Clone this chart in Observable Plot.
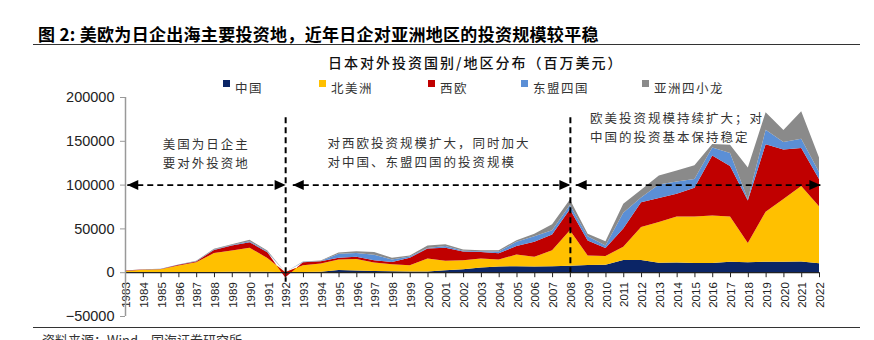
<!DOCTYPE html>
<html>
<head>
<meta charset="utf-8">
<script src="https://cdn.jsdelivr.net/npm/d3@7"></script>
<script src="https://cdn.jsdelivr.net/npm/@observablehq/plot@0.6"></script>
<style>
  body { margin: 0; background: #fff; }
  #wrap { position: relative; width: 874px; height: 340px; overflow: hidden; font-family: "Noto Sans CJK SC", sans-serif; color: #222; }
  .title { position: absolute; left: 38px; top: 21px; font-size: 17px; font-weight: bold; color: #000; white-space: nowrap; letter-spacing: 0.3px; }
  .hline { position: absolute; height: 0; border-top: 1.5px solid #333; }
  .sub { position: absolute; left: 328px; top: 52px; font-size: 14px; letter-spacing: 2px; color: #111; white-space: nowrap; font-weight: 500; }
  .leg { position: absolute; top: 78px; font-size: 12.5px; letter-spacing: 1.5px; color: #333; white-space: nowrap; }
  .leg i { position: absolute; left: 0; top: 2px; width: 7px; height: 7px; }
  .leg span { position: absolute; left: 12px; top: 0; }
  .src { position: absolute; left: 42px; top: 330px; font-size: 13px; color: #333; white-space: nowrap; }
  #chart { position: absolute; left: 0; top: 88px; }
  #chart svg { overflow: visible; }
</style>
</head>
<body>
<div id="wrap">
  <div class="title">图 2: 美欧为日企出海主要投资地，近年日企对亚洲地区的投资规模较平稳</div>
  <div class="hline" style="left:33px;width:827px;top:44px;"></div>
  <div class="sub">日本对外投资国别/地区分布（百万美元）</div>
  <div id="legend"></div>
  <div id="chart"></div>
  <div class="hline" style="left:33px;width:827px;top:327px;"></div>
  <div class="src">资料来源：Wind，国海证券研究所</div>
</div>
<script>
// ---- data ----
const years = [1983,1984,1985,1986,1987,1988,1989,1990,1991,1992,
               1993,1994,1995,1996,1997,1998,1999,2000,2001,2002,
               2003,2004,2005,2006,2007,2008,2009,2010,2011,2012,
               2013,2014,2015,2016,2017,2018,2019,2020,2021,2022];
const seriesNames = ["中国", "北美洲", "西欧", "东盟四国", "亚洲四小龙"];
const seriesColors = ["#0b2566", "#ffc000", "#c00000", "#5b8fd6", "#8a8a8a"];
const china = [0,0,100,200,300,300,400,400,500,0,
               200,500,2500,2000,1500,1000,700,900,2300,3400,
               5300,6500,6900,6500,6900,7300,8100,8500,14000,13800,
               10700,11200,10500,10500,11800,11500,12000,12000,12300,10200];
const northAmerica = [1500,2800,3200,7500,11000,21500,24300,27400,15800,0,
               7800,9500,12000,13000,9500,8000,7300,14600,10700,10300,
               10300,8000,13300,11000,18100,40700,11000,10000,15000,37700,
               46700,52400,53000,54300,51800,21900,57000,71700,86000,65200];
const westernEurope = [300,300,400,800,1000,3500,5800,6500,6500,-6000,
               3500,2500,2000,2500,2700,2700,8500,11500,15000,9800,
               7400,7000,9600,17200,18000,24000,17000,9000,21000,28300,
               27300,25900,33000,68500,57500,48500,77000,56500,43500,31000];
const asean = [100,100,100,200,300,500,500,1000,700,0,
               300,300,4500,4500,6300,2800,1500,500,2000,1000,
               1000,2000,4900,6300,5000,4700,5000,3000,18000,5500,
               15300,14000,10000,9000,15000,1500,16500,8500,10500,8000];
const asiaNIEs = [100,100,100,200,500,1000,1000,1700,1200,0,
               300,500,1500,2000,3000,2000,1000,3000,2000,1500,
               1000,1500,1900,3000,6600,6300,2800,4700,10000,8700,
               10500,12500,15500,4000,9500,36000,20000,13500,31500,16500];
const yTicks = [-50000, 0, 50000, 100000, 150000, 200000];
const dividers = [{year: 1992, top: 177000, bottom: -11000}, {year: 2008, top: 177000, bottom: 0}];
const phases = [{from: 1983.1, to: 1992, level: 100000},
                {from: 1992.4, to: 2008, level: 100000},
                {from: 2008.3, to: 2022.05, level: 100000}];
const notes = [
  {year: 1985.1, level: 137500, text: "美国为日企主\n要对外投资地"},
  {year: 1994.35, level: 138500, text: "对西欧投资规模扩大，同时加大\n对中国、东盟四国的投资规模"},
  {year: 2009.1, level: 166500, text: "欧美投资规模持续扩大；对\n中国的投资基本保持稳定"}
];

// ---- table ----
const seriesValues = [china, northAmerica, westernEurope, asean, asiaNIEs];
const table = [];
seriesValues.forEach((arr, k) => arr.forEach((v, i) => table.push({year: years[i], series: seriesNames[k], value: v})));

// ---- legend ----
const legendX = [223, 319, 428, 521, 642];
const legend = document.getElementById("legend");
seriesNames.forEach((n, i) => {
  const d = document.createElement("div");
  d.className = "leg";
  d.style.left = legendX[i] + "px";
  d.innerHTML = `<i style="background:${seriesColors[i]}"></i><span>${n}</span>`;
  legend.appendChild(d);
});

// ---- arrowhead symbols ----
const headRight = {draw(ctx) { ctx.moveTo(0, 0); ctx.lineTo(-11, -5); ctx.lineTo(-11, 5); ctx.closePath(); }};
const headLeft = {draw(ctx) { ctx.moveTo(0, 0); ctx.lineTo(11, -5); ctx.lineTo(11, 5); ctx.closePath(); }};

const fmt = d => d < 0 ? "−" + Math.abs(d) : String(d);

const chart = Plot.plot({
  width: 874,
  height: 240,
  marginLeft: 125,
  marginRight: 55,
  marginTop: 9,
  marginBottom: 12,
  style: {fontFamily: "'Liberation Sans', Arial, sans-serif", background: "transparent", color: "#222"},
  x: {domain: [1983, 2022], axis: null},
  y: {domain: [-50000, 200000]},
  color: {domain: seriesNames, range: seriesColors},
  marks: [
    Plot.areaY(table, {x: "year", y: "value", fill: "series", order: seriesNames, curve: "linear"}),
    Plot.ruleY([0], {stroke: "#222", strokeWidth: 1.2}),
    Plot.ruleX(years, {x: d => d, y1: 0, y2: 0, insetBottom: -5, stroke: "#222"}),
    Plot.text(years, {x: d => d, y: 0, text: d => String(d), rotate: -90, textAnchor: "end", lineAnchor: "middle", dy: 9.5, dx: 1, fontSize: 11.5, fill: "#222"}),
    Plot.ruleX([1983], {stroke: "#999", strokeWidth: 1.5}),
    Plot.axisY({ticks: yTicks, tickSize: 5, tickPadding: 6, tickFormat: fmt, fontSize: 14.5, stroke: "#999", fill: "#222"}),
    Plot.ruleX(dividers, {x: "year", y1: "top", y2: "bottom", stroke: "#000", strokeWidth: 2, strokeDasharray: "6,4"}),
    Plot.link(phases, {x1: "from", x2: "to", y1: "level", y2: "level", stroke: "#000", strokeWidth: 1.6, strokeDasharray: "6,4"}),
    Plot.dot(phases, {x: "to", y: "level", symbol: headRight, fill: "#000", stroke: "none", r: 5}),
    Plot.dot(phases, {x: "from", y: "level", symbol: headLeft, fill: "#000", stroke: "none", r: 5}),
    Plot.text(notes, {x: "year", y: "level", text: "text", textAnchor: "start", lineAnchor: "middle", lineHeight: 1.5, fontSize: 12.5, fill: "#333", fontFamily: "Noto Sans CJK SC"})
  ]
});
chart.querySelectorAll("g").forEach(g => {
  const ff = g.getAttribute("font-family");
  if (ff && ff.includes("CJK")) g.style.letterSpacing = "2px";
});
document.getElementById("chart").appendChild(chart);
</script>
</body>
</html>
